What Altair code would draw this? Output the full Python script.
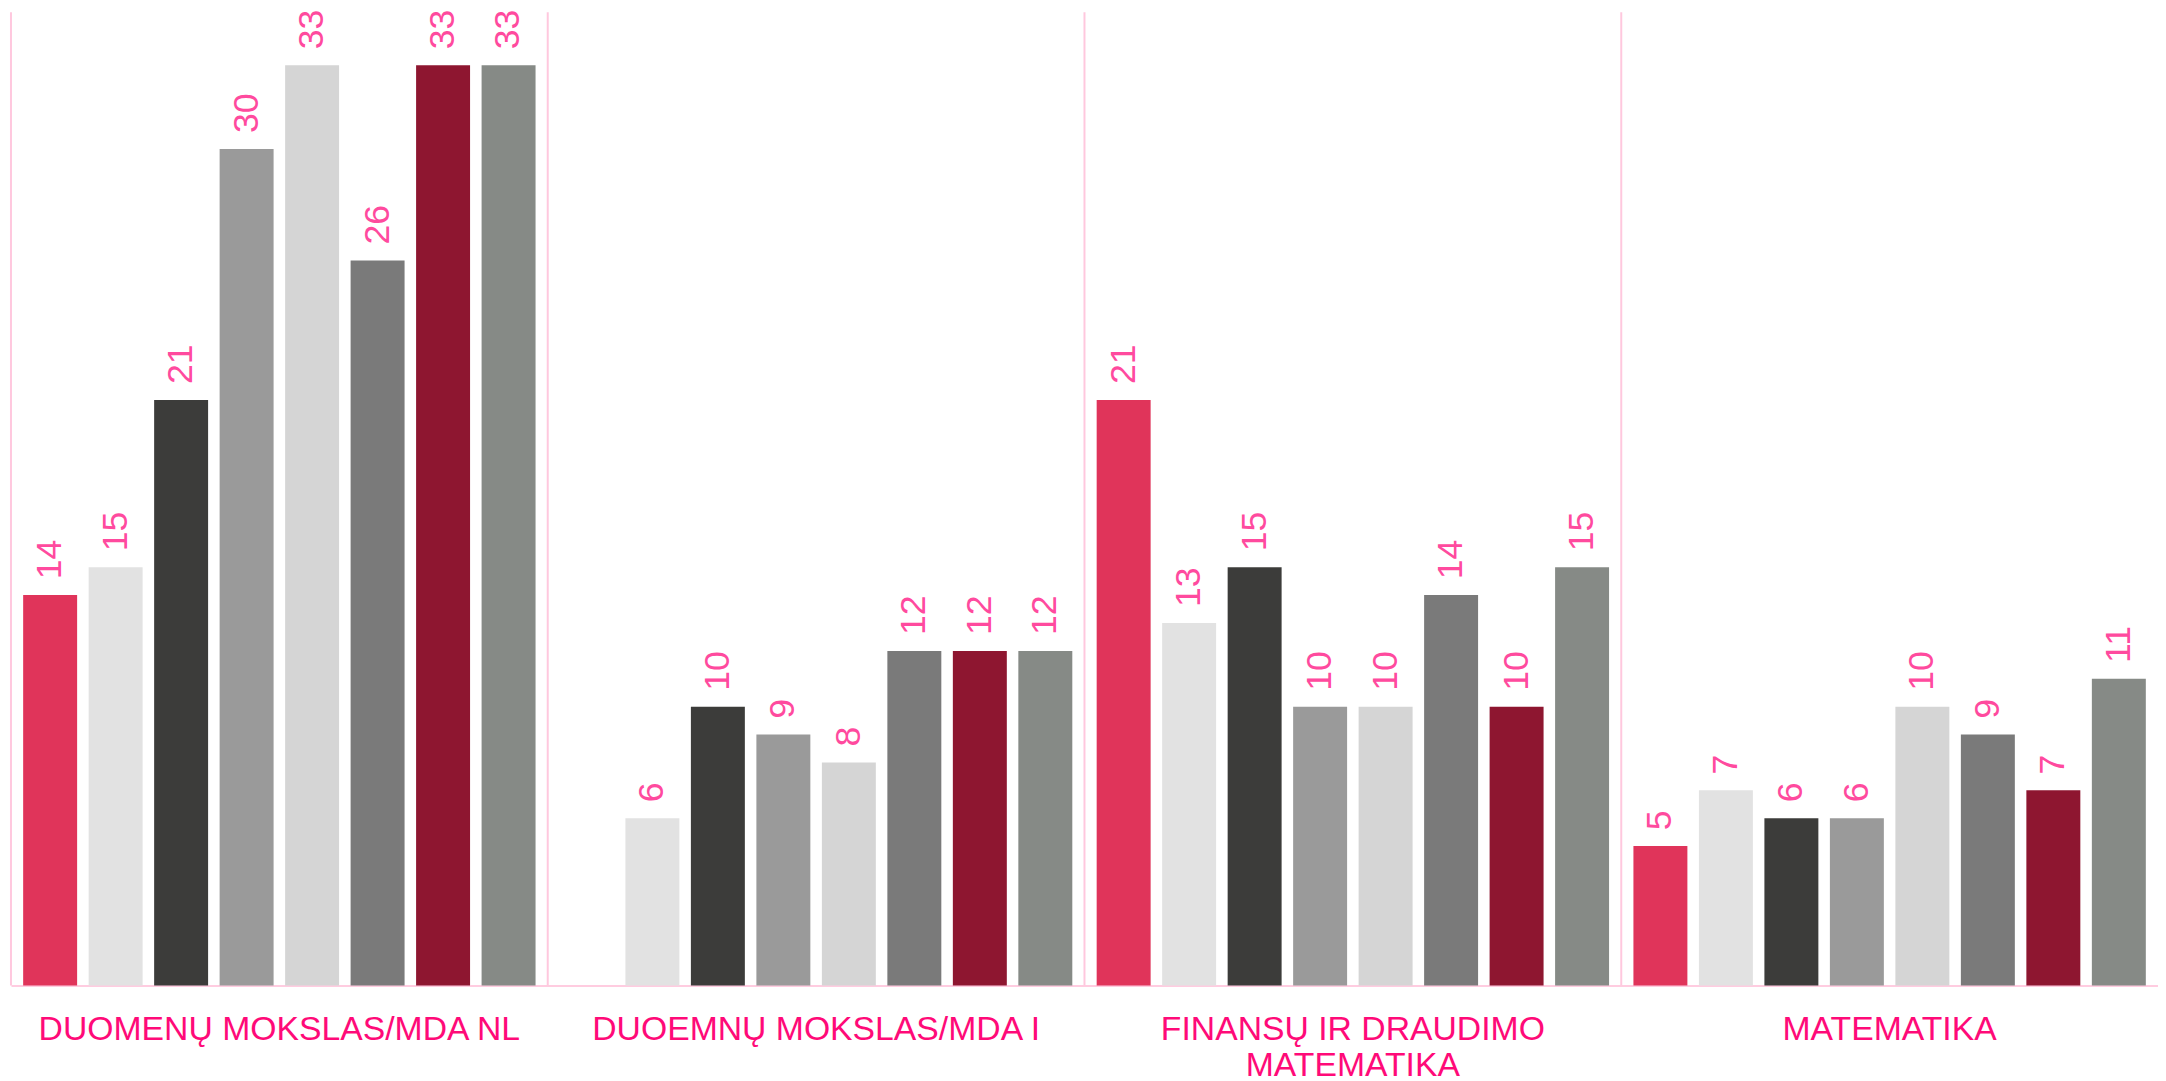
import altair as alt
import pandas as pd

groups = ["DUOMENŲ MOKSLAS/MDA NL", "DUOEMNŲ MOKSLAS/MDA I",
          "FINANSŲ IR DRAUDIMO\nMATEMATIKA", "MATEMATIKA"]
series = ["S1", "S2", "S3", "S4", "S5", "S6", "S7", "S8"]
colors = ["#E0345A", "#E2E2E2", "#3C3C3A", "#9A9A9A",
          "#D5D5D5", "#7A7A7A", "#8E1630", "#868A86"]

values_g1 = [14, 15, 21, 30, 33, 26, 33, 33]
values_g2 = [None, 6, 10, 9, 8, 12, 12, 12]
values_g3 = [21, 13, 15, 10, 10, 14, 10, 15]
values_g4 = [5, 7, 6, 6, 10, 9, 7, 11]

rows = []
for g, vals in zip(groups, [values_g1, values_g2, values_g3, values_g4]):
    for s, v in zip(series, vals):
        if v is not None:
            rows.append({"group": g, "series": s, "value": v})
df = pd.DataFrame(rows)
sep_df = pd.DataFrame({"group": groups})

xenc = alt.X("group:N", sort=groups,
             scale=alt.Scale(paddingInner=0, paddingOuter=0),
             axis=alt.Axis(title=None, labelAngle=0, ticks=False, tickSize=0,
                           labelAlign="center", labelBaseline="top",
                           labelPadding=27, labelFontSize=34,
                           labelFont="Liberation Sans", labelColor="#FF0A78",
                           labelLimit=0, labelLineHeight=37,
                           labelExpr="split(datum.label, '\\n')",
                           domainColor="#FFCCE0", domainWidth=2, grid=False))
xoff = alt.XOffset("series:N", sort=series,
                   scale=alt.Scale(paddingInner=0.176, paddingOuter=0.186))
yenc = alt.Y("value:Q", scale=alt.Scale(domain=[0, 34.9], nice=False, zero=True),
             axis=None)

bars = alt.Chart(df).mark_bar().encode(
    x=xenc, xOffset=xoff, y=yenc,
    color=alt.Color("series:N", sort=series,
                    scale=alt.Scale(domain=series, range=colors), legend=None),
)

labels = alt.Chart(df).mark_text(
    angle=270, align="left", baseline="middle", dx=16,
    fontSize=36, font="Liberation Sans", color="#FF4A9E"
).encode(x=xenc, xOffset=xoff, y=yenc, text=alt.Text("value:Q"))

seps = alt.Chart(sep_df).mark_rule(color="#FFC8DE", strokeWidth=2).encode(
    x=alt.X("group:N", sort=groups, bandPosition=0,
            scale=alt.Scale(paddingInner=0, paddingOuter=0))
)

chart = alt.layer(seps, bars, labels).properties(
    width=2164, height=981,
    autosize=alt.AutoSizeParams(type="none"),
    padding={"left": 3, "top": 0, "right": 0, "bottom": 100},
).configure_view(stroke=None)

chart.save("out.html", embed_options={"renderer": "svg", "actions": False})
